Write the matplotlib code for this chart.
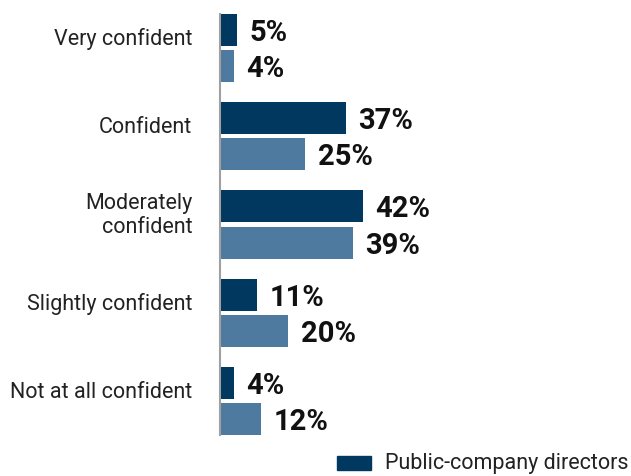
import matplotlib
matplotlib.use("Agg")
import matplotlib.pyplot as plt
from matplotlib.patches import Rectangle

categories = ["Very confident", "Confident", "Moderately\nconfident",
              "Slightly confident", "Not at all confident"]
series_names = ["Public-company directors", "Other respondents"]
directors = [5, 37, 42, 11, 4]
others = [4, 25, 39, 20, 12]

dark = "#00385F"
light = "#4E7AA0"

plt.rcParams['font.family'] = ['Roboto', 'DejaVu Sans']

W, H = 631, 476
fig = plt.figure(figsize=(W / 100, H / 100), dpi=100)
ax = fig.add_axes([220 / W, 1 - 435 / H, 408 / W, 421 / H])

bh = 0.364
off = 0.205
ys = list(range(len(categories)))
ax.barh([y - off for y in ys], directors, height=bh, color=dark)
ax.barh([y + off for y in ys], others, height=bh, color=light)

ax.set_xlim(0, 120)
ax.set_ylim(4.387, -0.387)

for y, v in zip(ys, directors):
    ax.annotate(f"{v}%", (v, y - off), xytext=(9, 0), textcoords="offset points",
                ha="left", va="center_baseline", fontsize=21, fontweight="bold", color="#111111")
for y, v in zip(ys, others):
    ax.annotate(f"{v}%", (v, y + off), xytext=(9, 0), textcoords="offset points",
                ha="left", va="center_baseline", fontsize=21, fontweight="bold", color="#111111")

ax.set_yticks([])
ax.set_xticks([])
for y, lab in zip(ys, categories):
    ax.annotate(lab, (0, y - 0.1), xytext=(-20, 0), textcoords="offset points",
                ha="right", va="center", fontsize=15.5, color="#222222",
                linespacing=1.15, annotation_clip=False)

for s in ["top", "right", "bottom"]:
    ax.spines[s].set_visible(False)
ax.spines["left"].set_color("#A0A0A0")
ax.spines["left"].set_linewidth(1.5)

# legend (only first entry visible, as in reference)
fig.patches.append(Rectangle((337 / W, 1 - 470 / H), 34 / W, 14 / H,
                             transform=fig.transFigure, color=dark))
fig.text(385 / W, 1 - 463 / H, series_names[0], fontsize=15.5, color="#222222",
         ha="left", va="center")

fig.savefig("out.png", dpi=100)
